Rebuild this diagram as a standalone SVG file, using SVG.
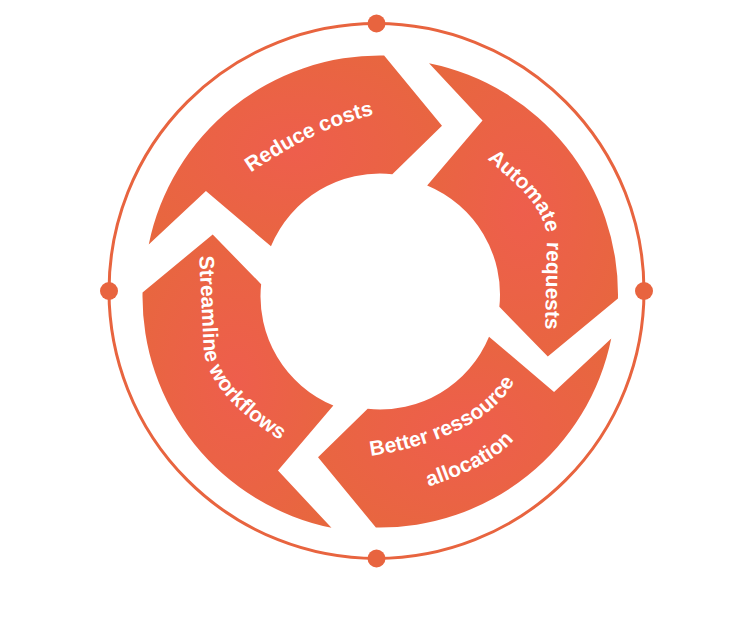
<svg xmlns="http://www.w3.org/2000/svg" xmlns:xlink="http://www.w3.org/1999/xlink" width="735" height="628" viewBox="0 0 735 628">
<style>
.ring{fill:none;stroke:#E8643F;stroke-width:3}
.dot{fill:#E8643F}
.seg{fill:url(#segFill)}
.lbl{font-family:"Liberation Sans",Arial,sans-serif;font-weight:bold;font-size:21px;fill:#FFFFFF}
</style>
<defs>
<radialGradient id="segFill" cx="50%" cy="50%" r="65%">
<stop offset="0" stop-color="#EE5E4C"/>
<stop offset="1" stop-color="#E7673E"/>
</radialGradient>
<path id="segShape" d="M-231.26,-47.05 A236,236 0 0 1 4.12,-235.96 L61.98,-165.8 L12.33,-117.35 A118,118 0 0 0 -109.02,-45.16 L-174.07,-100.5 Z"/>
<path id="p1" d="M250,173 C290,146 333,123 378,114"/>
<path id="p2" d="M487,159 C518,185 546,209 547,239 L545,340"/>
<path id="p3" d="M199,253 L204,352 Q212,400 290,446"/>
<path id="p4" d="M370,456 C427,448 496,424 517,376"/>
<path id="p5" d="M428,487 C456,477 500,462 519,433"/>
</defs>
<rect width="735" height="628" fill="#FFFFFF"/>
<g id="outer-ring">
<circle class="ring" cx="376.5" cy="291" r="267.5"/>
<circle class="dot" cx="376.5" cy="23.5" r="9"/>
<circle class="dot" cx="376.5" cy="558.5" r="9"/>
<circle class="dot" cx="109" cy="291" r="9"/>
<circle class="dot" cx="644" cy="291" r="9"/>
</g>
<g id="connectors"></g>
<g id="node-reduce-costs">
<use xlink:href="#segShape" href="#segShape" class="seg" transform="translate(380,291.5)"/>
<text class="lbl"><textPath xlink:href="#p1" href="#p1" startOffset="1">Reduce costs</textPath></text>
</g>
<g id="node-automate-requests">
<use xlink:href="#segShape" href="#segShape" class="seg" transform="translate(382,294.5) rotate(90)"/>
<text class="lbl" word-spacing="3"><textPath xlink:href="#p2" href="#p2" startOffset="0">Automate requests</textPath></text>
</g>
<g id="node-better-ressource-allocation">
<use xlink:href="#segShape" href="#segShape" class="seg" transform="translate(380,291.5) rotate(180)"/>
<text class="lbl"><textPath xlink:href="#p4" href="#p4" startOffset="1">Better ressource</textPath></text>
<text class="lbl"><textPath xlink:href="#p5" href="#p5" startOffset="1">allocation</textPath></text>
</g>
<g id="node-streamline-workflows">
<use xlink:href="#segShape" href="#segShape" class="seg" transform="translate(378.5,296.5) rotate(270)"/>
<text class="lbl"><textPath xlink:href="#p3" href="#p3" startOffset="3">Streamline workflows</textPath></text>
</g>
</svg>
